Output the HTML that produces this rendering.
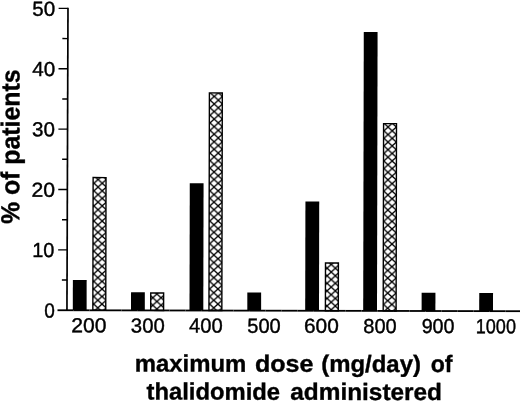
<!DOCTYPE html>
<html><head><meta charset="utf-8"><title>chart</title>
<style>
html,body{margin:0;padding:0;background:#fff;}
svg{display:block;}
.t{font-family:"Liberation Sans",sans-serif;font-size:20.3px;fill:#000;stroke:#000;stroke-width:0.4px;}
.b{font-family:"Liberation Sans",sans-serif;font-size:23.7px;font-weight:bold;fill:#000;stroke:#000;stroke-width:0.35px;}
</style></head><body>
<svg width="520" height="402" viewBox="0 0 520 402">
<rect x="0" y="0" width="520" height="402" fill="#fff"/>
<g transform="rotate(0.12 67 310)">
<defs>
<pattern id="h0" width="8.3" height="7.55" patternUnits="userSpaceOnUse" x="93.68" y="175.66"><path d="M0,0 L8.3,7.55 M0,7.55 L8.3,0" stroke="#000" stroke-width="1.25" stroke-linecap="square" fill="none"/></pattern>
<pattern id="h1" width="8.3" height="7.55" patternUnits="userSpaceOnUse" x="152.75" y="297.53"><path d="M0,0 L8.3,7.55 M0,7.55 L8.3,0" stroke="#000" stroke-width="1.25" stroke-linecap="square" fill="none"/></pattern>
<pattern id="h2" width="8.3" height="7.55" patternUnits="userSpaceOnUse" x="209.62" y="99.91"><path d="M0,0 L8.3,7.55 M0,7.55 L8.3,0" stroke="#000" stroke-width="1.25" stroke-linecap="square" fill="none"/></pattern>
<pattern id="h3" width="8.3" height="7.55" patternUnits="userSpaceOnUse" x="326.97" y="267.68"><path d="M0,0 L8.3,7.55 M0,7.55 L8.3,0" stroke="#000" stroke-width="1.25" stroke-linecap="square" fill="none"/></pattern>
<pattern id="h4" width="8.3" height="7.55" patternUnits="userSpaceOnUse" x="383.54" y="130.12"><path d="M0,0 L8.3,7.55 M0,7.55 L8.3,0" stroke="#000" stroke-width="1.25" stroke-linecap="square" fill="none"/></pattern>
</defs>
<rect x="72.80" y="279.93" width="13.8" height="30.32" fill="#000"/>
<rect x="131.00" y="292.06" width="13.8" height="18.19" fill="#000"/>
<rect x="189.50" y="182.88" width="13.8" height="127.37" fill="#000"/>
<rect x="247.30" y="292.06" width="13.8" height="18.19" fill="#000"/>
<rect x="305.20" y="201.08" width="13.8" height="109.17" fill="#000"/>
<rect x="363.20" y="31.26" width="13.8" height="278.99" fill="#000"/>
<rect x="421.60" y="292.06" width="13.8" height="18.19" fill="#000"/>
<rect x="479.20" y="292.06" width="13.8" height="18.19" fill="#000"/>
<rect x="92.85" y="177.52" width="12.90" height="132.73" fill="#fff"/>
<rect x="92.85" y="177.52" width="12.90" height="132.73" fill="url(#h0)" stroke="#000" stroke-width="1.4"/>
<rect x="150.70" y="292.75" width="12.90" height="17.49" fill="#fff"/>
<rect x="150.70" y="292.75" width="12.90" height="17.49" fill="url(#h1)" stroke="#000" stroke-width="1.4"/>
<rect x="208.95" y="92.61" width="12.90" height="217.64" fill="#fff"/>
<rect x="208.95" y="92.61" width="12.90" height="217.64" fill="url(#h2)" stroke="#000" stroke-width="1.4"/>
<rect x="325.40" y="262.43" width="12.90" height="47.82" fill="#fff"/>
<rect x="325.40" y="262.43" width="12.90" height="47.82" fill="url(#h3)" stroke="#000" stroke-width="1.4"/>
<rect x="383.20" y="122.93" width="12.90" height="187.32" fill="#fff"/>
<rect x="383.20" y="122.93" width="12.90" height="187.32" fill="url(#h4)" stroke="#000" stroke-width="1.4"/>
<line x1="67.35" y1="7.80" x2="66.95" y2="310.25" stroke="#000" stroke-width="1.7"/>
<line x1="61.80" y1="280.06" x2="67.2" y2="280.06" stroke="#000" stroke-width="1.4"/>
<line x1="58.00" y1="249.88" x2="67.2" y2="249.88" stroke="#000" stroke-width="1.4"/>
<line x1="61.80" y1="219.69" x2="67.2" y2="219.69" stroke="#000" stroke-width="1.4"/>
<line x1="58.00" y1="189.51" x2="67.2" y2="189.51" stroke="#000" stroke-width="1.4"/>
<line x1="61.80" y1="159.32" x2="67.2" y2="159.32" stroke="#000" stroke-width="1.4"/>
<line x1="58.00" y1="129.14" x2="67.2" y2="129.14" stroke="#000" stroke-width="1.4"/>
<line x1="61.80" y1="98.96" x2="67.2" y2="98.96" stroke="#000" stroke-width="1.4"/>
<line x1="58.00" y1="68.77" x2="67.2" y2="68.77" stroke="#000" stroke-width="1.4"/>
<line x1="61.80" y1="38.58" x2="67.2" y2="38.58" stroke="#000" stroke-width="1.4"/>
<line x1="58.00" y1="8.40" x2="67.2" y2="8.40" stroke="#000" stroke-width="1.4"/>
<text transform="translate(71.26,332.30) scale(1.0412,1)" class="t">200</text>
<text transform="translate(130.90,332.30) scale(1.0012,1)" class="t">300</text>
<text transform="translate(189.10,332.30) scale(0.9953,1)" class="t">400</text>
<text transform="translate(247.35,332.30) scale(0.9878,1)" class="t">500</text>
<text transform="translate(304.07,332.30) scale(1.0258,1)" class="t">600</text>
<text transform="translate(363.35,332.30) scale(0.9878,1)" class="t">800</text>
<text transform="translate(421.70,332.30) scale(0.9714,1)" class="t">900</text>
<text transform="translate(475.81,332.30) scale(0.8896,1)" class="t">1000</text>
<text transform="translate(31.70,15.75) scale(1.0144,1)" class="t">50</text>
<text transform="translate(31.70,76.10) scale(1.0144,1)" class="t">40</text>
<text transform="translate(31.70,136.40) scale(1.0144,1)" class="t">30</text>
<text transform="translate(31.16,196.80) scale(1.0433,1)" class="t">20</text>
<text transform="translate(32.12,257.10) scale(0.9822,1)" class="t">10</text>
<text transform="translate(44.30,317.60) scale(0.9364,1)" class="t">0</text>
<text transform="translate(134.79,371.30) scale(1.0090,1)" class="b">maximum</text>
<text transform="translate(255.10,371.30) scale(1.0578,1)" class="b">dose</text>
<text transform="translate(321.39,371.30) scale(1.0101,1)" class="b">(mg/day)</text>
<text transform="translate(430.90,371.30) scale(0.9747,1)" class="b">of</text>
<text transform="translate(146.70,399.30) scale(1.0049,1)" class="b">thalidomide</text>
<text transform="translate(290.50,399.30) scale(1.0290,1)" class="b">administered</text>
<text transform="translate(19.1,224.20) rotate(-90) scale(1.0501,1.10)" class="b">% of patients</text>
</g>
<rect x="57.50" y="309.347" width="16.00" height="1.8" fill="#000"/>
<rect x="73.50" y="309.380" width="16.00" height="1.8" fill="#000"/>
<rect x="89.50" y="309.414" width="16.00" height="1.8" fill="#000"/>
<rect x="105.50" y="309.447" width="16.00" height="1.8" fill="#000"/>
<rect x="121.50" y="309.481" width="16.00" height="1.8" fill="#000"/>
<rect x="137.50" y="309.514" width="16.00" height="1.8" fill="#000"/>
<rect x="153.50" y="309.548" width="16.00" height="1.8" fill="#000"/>
<rect x="169.50" y="309.581" width="16.00" height="1.8" fill="#000"/>
<rect x="185.50" y="309.615" width="16.00" height="1.8" fill="#000"/>
<rect x="201.50" y="309.648" width="16.00" height="1.8" fill="#000"/>
<rect x="217.50" y="309.682" width="16.00" height="1.8" fill="#000"/>
<rect x="233.50" y="309.715" width="16.00" height="1.8" fill="#000"/>
<rect x="249.50" y="309.749" width="16.00" height="1.8" fill="#000"/>
<rect x="265.50" y="309.782" width="16.00" height="1.8" fill="#000"/>
<rect x="281.50" y="309.816" width="16.00" height="1.8" fill="#000"/>
<rect x="297.50" y="309.850" width="16.00" height="1.8" fill="#000"/>
<rect x="313.50" y="309.883" width="16.00" height="1.8" fill="#000"/>
<rect x="329.50" y="309.917" width="16.00" height="1.8" fill="#000"/>
<rect x="345.50" y="309.950" width="16.00" height="1.8" fill="#000"/>
<rect x="361.50" y="309.984" width="16.00" height="1.8" fill="#000"/>
<rect x="377.50" y="310.017" width="16.00" height="1.8" fill="#000"/>
<rect x="393.50" y="310.051" width="16.00" height="1.8" fill="#000"/>
<rect x="409.50" y="310.084" width="16.00" height="1.8" fill="#000"/>
<rect x="425.50" y="310.118" width="16.00" height="1.8" fill="#000"/>
<rect x="441.50" y="310.151" width="16.00" height="1.8" fill="#000"/>
<rect x="457.50" y="310.185" width="16.00" height="1.8" fill="#000"/>
<rect x="473.50" y="310.218" width="16.00" height="1.8" fill="#000"/>
<rect x="489.50" y="310.252" width="16.00" height="1.8" fill="#000"/>
<rect x="505.50" y="310.284" width="14.50" height="1.8" fill="#000"/>
</svg>
</body></html>
